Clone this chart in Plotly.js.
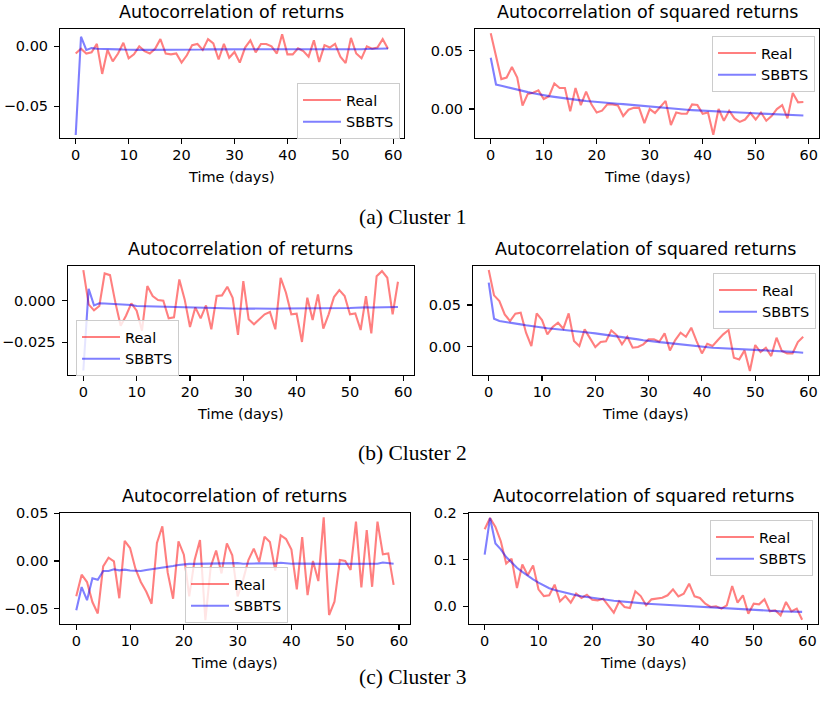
<!DOCTYPE html>
<html>
<head>
<meta charset="utf-8">
<script src="https://cdn.plot.ly/plotly-3.0.1.min.js"></script>
<style>
  html, body { margin: 0; padding: 0; background: #ffffff; }
  #chart { width: 826px; height: 721px; }
</style>
</head>
<body>
<div id="chart"></div>
<script>
// Lag axis (days)
const days = [0,1,2,3,4,5,6,7,8,9,10,11,12,13,14,15,16,17,18,19,
  20,21,22,23,24,25,26,27,28,29,30,31,32,33,34,35,36,37,38,39,
  40,41,42,43,44,45,46,47,48,49,50,51,52,53,54,55,56,57,58,59];

const seriesNames = ['Real', 'SBBTS'];
const panelTitles = ['Autocorrelation of returns', 'Autocorrelation of squared returns'];
const captions = ['(a) Cluster 1', '(b) Cluster 2', '(c) Cluster 3'];
const xLabel = 'Time (days)';

// Cluster 1
const c1ReturnsReal = [-0.006,-0.002,-0.006,-0.005,0.002,-0.023,-0.003,-0.0125,-0.006,0.003,
  -0.010,-0.0067,0.000,-0.004,-0.006,-0.002,0.006,-0.006,-0.0067,-0.006,
  -0.0136,-0.0075,0.001,0.002,-0.003,0.006,0.0025,-0.011,0.002,-0.0095,
  -0.0047,-0.0136,-0.001,0.005,-0.005,0.002,0.002,0.000,-0.006,0.010,
  -0.0067,-0.0067,-0.0017,-0.004,-0.0086,0.005,-0.013,0.001,-0.001,0.002,
  -0.0086,-0.014,0.007,-0.006,-0.010,0.000,-0.002,-0.001,0.006,-0.002];
const c1ReturnsSbbts = [-0.074,0.008,-0.003,-0.0015,-0.002,-0.002,-0.002,-0.0022,-0.0025,-0.0027,
  -0.003,-0.003,-0.003,-0.003,-0.003,-0.003,-0.003,-0.003,-0.0032,-0.003,
  -0.003,-0.003,-0.003,-0.0028,-0.0027,-0.0025,-0.0025,-0.0025,-0.0025,-0.0025,
  -0.0025,-0.0026,-0.0025,-0.0025,-0.0024,-0.0024,-0.0025,-0.0025,-0.0026,-0.0026,
  -0.0027,-0.0028,-0.0028,-0.003,-0.003,-0.003,-0.003,-0.0029,-0.0028,-0.0028,
  -0.0027,-0.0027,-0.0026,-0.0025,-0.0024,-0.0022,-0.002,-0.002,-0.0019,-0.0018];
const c1SquaredReal = [0.065,0.045,0.0257,0.027,0.036,0.027,0.003,0.013,0.014,0.016,
  0.0086,0.011,0.022,0.018,0.018,-0.002,0.018,0.0034,0.015,0.004,
  -0.003,-0.0014,0.004,0.004,0.003,-0.006,-0.0006,0.001,0.001,-0.012,
  0.000,-0.0034,0.002,0.007,-0.0137,-0.003,-0.004,-0.004,0.004,0.0034,
  -0.004,-0.003,-0.022,0.000,-0.010,-0.0014,-0.008,-0.011,-0.009,-0.0034,
  -0.009,-0.003,-0.010,-0.006,0.000,0.0034,-0.008,0.0137,0.0057,0.006];
const c1SquaredSbbts = [0.044,0.021,0.020,0.0188,0.0177,0.0166,0.0155,0.0145,0.0135,0.0125,
  0.0118,0.0111,0.0104,0.0097,0.0091,0.0085,0.0079,0.0074,0.0069,0.0064,
  0.0059,0.0055,0.0051,0.0048,0.0045,0.0042,0.0038,0.0034,0.0029,0.0022,
  0.0016,0.0012,0.0009,0.0006,0.0003,0.0,-0.0003,-0.0006,-0.0009,-0.0012,
  -0.0015,-0.0018,-0.002,-0.0022,-0.0024,-0.0026,-0.0028,-0.003,-0.0032,-0.0034,
  -0.0036,-0.0038,-0.004,-0.0042,-0.0044,-0.0046,-0.0048,-0.005,-0.0053,-0.0056];

// Cluster 2
const c2ReturnsReal = [0.0184,-0.0022,-0.0058,-0.0032,0.0164,0.0154,-0.001,-0.015,-0.009,-0.0016,
  -0.006,-0.018,0.0088,0.0028,0.0004,0.000,-0.0106,-0.010,0.0128,0.0008,
  -0.0158,-0.004,-0.0106,-0.0028,-0.0172,0.0028,0.0032,0.0084,0.0018,-0.0206,
  0.0118,-0.0112,-0.0142,-0.0112,-0.0082,-0.0068,-0.0172,0.0138,0.0048,-0.0082,
  -0.0078,-0.0248,0.0018,-0.0116,0.0038,-0.0168,-0.0082,0.0022,0.0064,0.0028,
  -0.0082,-0.0076,-0.0176,0.0028,-0.0196,0.0148,0.0178,0.0138,-0.0082,0.0114];
const c2ReturnsSbbts = [-0.042,0.0072,-0.0028,-0.0016,-0.0017,-0.0018,-0.002,-0.0022,-0.0024,-0.0026,
  -0.0032,-0.0033,-0.0034,-0.0035,-0.0034,-0.0036,-0.0037,-0.0038,-0.004,-0.0041,
  -0.0042,-0.0042,-0.0043,-0.0044,-0.0044,-0.0045,-0.0046,-0.0046,-0.0047,-0.0047,
  -0.0048,-0.0047,-0.0048,-0.0048,-0.0049,-0.0048,-0.0048,-0.0047,-0.0047,-0.0047,
  -0.0046,-0.0045,-0.0044,-0.0044,-0.0045,-0.0044,-0.0044,-0.0043,-0.0043,-0.0043,
  -0.0044,-0.0042,-0.004,-0.004,-0.0041,-0.004,-0.004,-0.0039,-0.0039,-0.0038];
const c2SquaredReal = [0.092,0.0616,0.0548,0.0388,0.0308,0.0396,0.0408,0.0168,0.0008,0.040,
  0.032,0.0148,0.0236,0.0288,0.0216,0.040,0.0068,0.0008,0.0208,0.0096,
  -0.0004,0.0056,0.0064,0.0196,0.014,0.0028,0.012,-0.0012,-0.0004,0.0028,
  0.0088,0.0088,0.006,0.016,-0.0044,0.008,0.0168,0.012,0.0228,0.0068,
  -0.008,0.0036,0.0008,0.008,0.0148,0.020,-0.0132,-0.0152,-0.0044,-0.0292,
  0.002,-0.0064,-0.0012,-0.0112,0.0108,-0.0052,-0.008,-0.008,0.0056,0.012];
const c2SquaredSbbts = [0.0768,0.0336,0.0308,0.030,0.029,0.028,0.0268,0.0257,0.0246,0.0237,
  0.0228,0.0222,0.0216,0.021,0.0205,0.020,0.0192,0.0184,0.0176,0.0168,
  0.016,0.0152,0.0144,0.0136,0.0128,0.012,0.011,0.0099,0.0088,0.0078,
  0.0068,0.0062,0.0055,0.0049,0.0042,0.0036,0.0028,0.002,0.0012,0.0004,
  -0.0004,-0.0008,-0.0012,-0.0015,-0.0018,-0.002,-0.0022,-0.0025,-0.0027,-0.003,
  -0.0032,-0.0036,-0.004,-0.0044,-0.0048,-0.0052,-0.0057,-0.0062,-0.0067,-0.0072];

// Cluster 3
const c3ReturnsReal = [-0.037,-0.0143,-0.022,-0.043,-0.055,-0.0056,0.0035,-0.0003,-0.039,0.021,
  0.0136,-0.008,-0.022,-0.032,-0.0448,0.019,0.0364,-0.0122,-0.0395,0.0206,
  0.0066,-0.037,0.001,0.022,-0.062,-0.006,0.011,-0.013,0.0185,0.006,
  -0.037,-0.02,0.001,0.013,-0.001,0.0255,0.02,-0.01,0.027,0.023,
  0.012,-0.0297,0.025,-0.0357,0.0,-0.021,0.0458,-0.0566,-0.0427,0.001,
  0.0,-0.0094,0.0413,-0.0276,0.0325,-0.027,0.0413,0.007,0.008,-0.025];
const c3ReturnsSbbts = [-0.0517,-0.0273,-0.041,-0.018,-0.0196,-0.0105,-0.0105,-0.0087,-0.0098,-0.009,
  -0.010,-0.010,-0.0105,-0.0094,-0.0087,-0.0077,-0.007,-0.0063,-0.0052,-0.0042,
  -0.0035,-0.003,-0.003,-0.0028,-0.003,-0.0027,-0.0025,-0.0022,-0.0024,-0.0022,
  -0.0022,-0.0028,-0.0025,-0.0024,-0.0025,-0.0025,-0.0027,-0.0026,-0.0018,-0.0025,
  -0.0028,-0.0027,-0.0028,-0.003,-0.0032,-0.0035,-0.0033,-0.003,-0.003,-0.003,
  -0.003,-0.003,-0.0028,-0.0028,-0.0026,-0.0024,-0.0028,-0.0015,-0.0025,-0.0028];
const c3SquaredReal = [0.1656,0.190,0.1706,0.140,0.0918,0.1025,0.0394,0.090,0.0667,0.088,
  0.0366,0.022,0.0237,0.0466,0.0108,0.022,0.0079,0.0272,0.018,0.025,
  0.0143,0.0129,0.0165,0.0022,-0.0136,0.0108,-0.0014,-0.0036,0.0323,0.022,
  0.0022,0.015,0.0165,0.0186,0.0237,0.0366,0.0215,0.0272,0.0487,0.0215,
  0.018,0.0057,-0.0014,0.0,-0.005,0.0022,0.0437,0.0079,0.0237,-0.0158,
  0.0057,0.0043,0.015,-0.0108,-0.0086,-0.0194,0.0093,-0.0108,-0.005,-0.0287];
const c3SquaredSbbts = [0.111,0.190,0.135,0.1226,0.106,0.094,0.083,0.074,0.065,0.058,
  0.051,0.045,0.039,0.035,0.032,0.0287,0.026,0.0238,0.0217,0.0198,
  0.018,0.0163,0.0148,0.0135,0.0121,0.0108,0.0097,0.0086,0.0076,0.0066,
  0.0057,0.005,0.0043,0.0036,0.0029,0.0022,0.0015,0.0008,0.0001,-0.0006,
  -0.0014,-0.0021,-0.0028,-0.0035,-0.0043,-0.005,-0.0057,-0.0064,-0.0071,-0.0079,
  -0.0086,-0.009,-0.0095,-0.0099,-0.0104,-0.0108,-0.0111,-0.0114,-0.0117,-0.012];

// Figure geometry in pixels
const W = 826, H = 721;
const px = v => v / W;
const py = v => 1 - v / H;

// One entry per subplot: data pairs, plot box (px), y axis settings, legend box corner (px)
const panels = [
  { real: c1ReturnsReal, sbbts: c1ReturnsSbbts, title: 0,
    box: [60.1, 403.6, 29.3, 138.3], yr: [-0.0767, 0.0142], dtick: 0.05, fmt: '.2f', leg: [297, 83] },
  { real: c1SquaredReal, sbbts: c1SquaredSbbts, title: 1,
    box: [475.1, 819.0, 29.3, 138.3], yr: [-0.0251, 0.0684], dtick: 0.05, fmt: '.2f', leg: [712, 36] },
  { real: c2ReturnsReal, sbbts: c2ReturnsSbbts, title: 0,
    box: [67.6, 413.7, 266, 375], yr: [-0.0447, 0.0209], dtick: 0.025, fmt: '.3f', leg: [76, 320] },
  { real: c2SquaredReal, sbbts: c2SquaredSbbts, title: 1,
    box: [473.0, 818.9, 266, 375], yr: [-0.0339, 0.0968], dtick: 0.05, fmt: '.2f', leg: [713, 273] },
  { real: c3ReturnsReal, sbbts: c3ReturnsSbbts, title: 0,
    box: [60.4, 409.5, 513.3, 624], yr: [-0.066, 0.05], dtick: 0.05, fmt: '.2f', leg: [185, 567] },
  { real: c3SquaredReal, sbbts: c3SquaredSbbts, title: 1,
    box: [468.8, 818.0, 513.3, 624], yr: [-0.038, 0.2], dtick: 0.1, fmt: '.1f', leg: [710, 520] }
];

const captionY = [217, 453, 677];

const FONT = 'DejaVu Sans, sans-serif';
const realColor = 'rgba(255,0,0,0.5)';
const sbbtsColor = 'rgba(0,0,255,0.5)';

const traces = [];
const layout = {
  width: W, height: H,
  margin: { l: 0, r: 0, t: 0, b: 0 },
  paper_bgcolor: '#ffffff',
  plot_bgcolor: '#ffffff',
  font: { family: FONT, size: 14.5, color: '#000000' },
  annotations: [],
  showlegend: true
};

panels.forEach((p, i) => {
  const n = i + 1;
  const xa = n === 1 ? 'xaxis' : 'xaxis' + n;
  const ya = n === 1 ? 'yaxis' : 'yaxis' + n;
  const xr = n === 1 ? 'x' : 'x' + n;
  const yr = n === 1 ? 'y' : 'y' + n;
  const lg = n === 1 ? 'legend' : 'legend' + n;

  traces.push({
    x: days, y: p.real, type: 'scatter', mode: 'lines', name: seriesNames[0],
    xaxis: xr, yaxis: yr, legend: lg,
    line: { color: realColor, width: 2.1 }
  });
  traces.push({
    x: days, y: p.sbbts, type: 'scatter', mode: 'lines', name: seriesNames[1],
    xaxis: xr, yaxis: yr, legend: lg,
    line: { color: sbbtsColor, width: 2.1 }
  });

  const common = {
    showline: true, mirror: true, linecolor: '#000000', linewidth: 1.1,
    ticks: 'outside', ticklen: 5, tickwidth: 1.1, tickcolor: '#000000',
    showgrid: false, zeroline: false,
    tickfont: { family: FONT, size: 14.5, color: '#000000' }
  };

  layout[xa] = Object.assign({}, common, {
    domain: [px(p.box[0]), px(p.box[1])],
    range: [-2.95, 61.95], dtick: 10, tick0: 0,
    ticklabelstandoff: -2,
    anchor: yr
  });
  layout[ya] = Object.assign({}, common, {
    domain: [py(p.box[3]), py(p.box[2])],
    range: p.yr, dtick: p.dtick, tick0: 0, tickformat: p.fmt,
    ticklabelstandoff: 3,
    anchor: xr
  });

  layout[lg] = {
    x: px(p.leg[0]), y: py(p.leg[1]), xanchor: 'left', yanchor: 'top',
    xref: 'paper', yref: 'paper', itemwidth: 38,
    bgcolor: 'rgba(255,255,255,0.8)', bordercolor: '#cccccc', borderwidth: 1,
    font: { family: FONT, size: 14.5, color: '#000000' }
  };

  const cx = (p.box[0] + p.box[1]) / 2;
  // subplot title
  layout.annotations.push({
    text: panelTitles[p.title], xref: 'paper', yref: 'paper',
    x: px(cx), y: py(p.box[2] - 5), xanchor: 'center', yanchor: 'bottom',
    showarrow: false, font: { family: FONT, size: 17.5, color: '#000000' }
  });
  // x axis label
  layout.annotations.push({
    text: xLabel, xref: 'paper', yref: 'paper',
    x: px(cx), y: py(p.box[3] + 39), xanchor: 'center', yanchor: 'middle',
    showarrow: false, font: { family: FONT, size: 14.5, color: '#000000' }
  });
});

captions.forEach((c, k) => {
  layout.annotations.push({
    text: c, xref: 'paper', yref: 'paper',
    x: px(412), y: py(captionY[k]), xanchor: 'center', yanchor: 'middle',
    showarrow: false, font: { family: 'Liberation Serif, serif', size: 21.5, color: '#000000' }
  });
});

Plotly.newPlot('chart', traces, layout, { staticPlot: true, displayModeBar: false });
</script>
</body>
</html>
